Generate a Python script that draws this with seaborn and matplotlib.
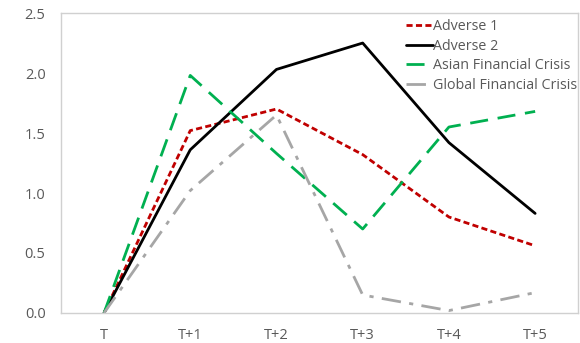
import matplotlib
matplotlib.use("Agg")
import matplotlib.pyplot as plt
import seaborn as sns
import pandas as pd

periods = ["T", "T+1", "T+2", "T+3", "T+4", "T+5"]
adverse_1 = [0.0, 1.52, 1.70, 1.32, 0.80, 0.56]
adverse_2 = [0.0, 1.36, 2.03, 2.25, 1.42, 0.83]
asian_crisis = [0.0, 1.98, 1.33, 0.70, 1.55, 1.68]
global_crisis = [0.0, 1.02, 1.65, 0.15, 0.02, 0.17]

series_names = ["Adverse 1", "Adverse 2", "Asian Financial Crisis", "Global Financial Crisis"]
series_values = [adverse_1, adverse_2, asian_crisis, global_crisis]
colors = ["#C00000", "#000000", "#00B050", "#A6A6A6"]
dash_styles = [(2.2, 1.2), "", (6.5, 3.5), (7, 3, 1.5, 3)]

sns.set_style("white")
plt.rcParams["font.family"] = ["Open Sans", "DejaVu Sans"]

rows = []
for name, vals in zip(series_names, series_values):
    for p, v in zip(periods, vals):
        rows.append({"period": p, "value": v, "series": name})
df = pd.DataFrame(rows)

fig = plt.figure(figsize=(5.8, 3.43), dpi=100)
ax = fig.add_axes([0.105, 0.0875, 0.892, 0.8745])

sns.lineplot(data=df, x="period", y="value", hue="series", style="series",
             palette=dict(zip(series_names, colors)),
             dashes=dict(zip(series_names, dash_styles)),
             linewidth=2.0, ax=ax, sort=False)

ax.set_xlim(-0.5, 5.5)
ax.set_ylim(0, 2.5)
yticks = [0.0, 0.5, 1.0, 1.5, 2.0, 2.5]
ax.set_yticks(yticks)
ax.set_yticklabels([f"{t:.1f}" for t in yticks])
ax.set_xticks(range(len(periods)))
ax.set_xticklabels(periods)
ax.set_xlabel("")
ax.set_ylabel("")

# category boundary ticks on the x axis
ax.set_xticks([i + 0.5 for i in range(len(periods) - 1)], minor=True)
ax.tick_params(axis="x", which="major", length=0, pad=11, labelsize=10.5, colors="#595959")
ax.tick_params(axis="x", which="minor", direction="in", length=4, color="#BFBFBF")
ax.tick_params(axis="y", direction="in", length=4, color="#BFBFBF", labelsize=10.5,
               labelcolor="#595959", pad=11)

for s in ax.spines.values():
    s.set_color("#D0D0D0")
    s.set_linewidth(1.0)

leg = ax.legend(loc="upper right", frameon=False, fontsize=10.3, handlelength=1.9,
                handletextpad=0.0, labelspacing=0.32, borderaxespad=0.0, borderpad=0.1,
                bbox_to_anchor=(1.0, 0.985))
for t in leg.get_texts():
    t.set_color("#595959")

fig.savefig("out.png", dpi=100)
